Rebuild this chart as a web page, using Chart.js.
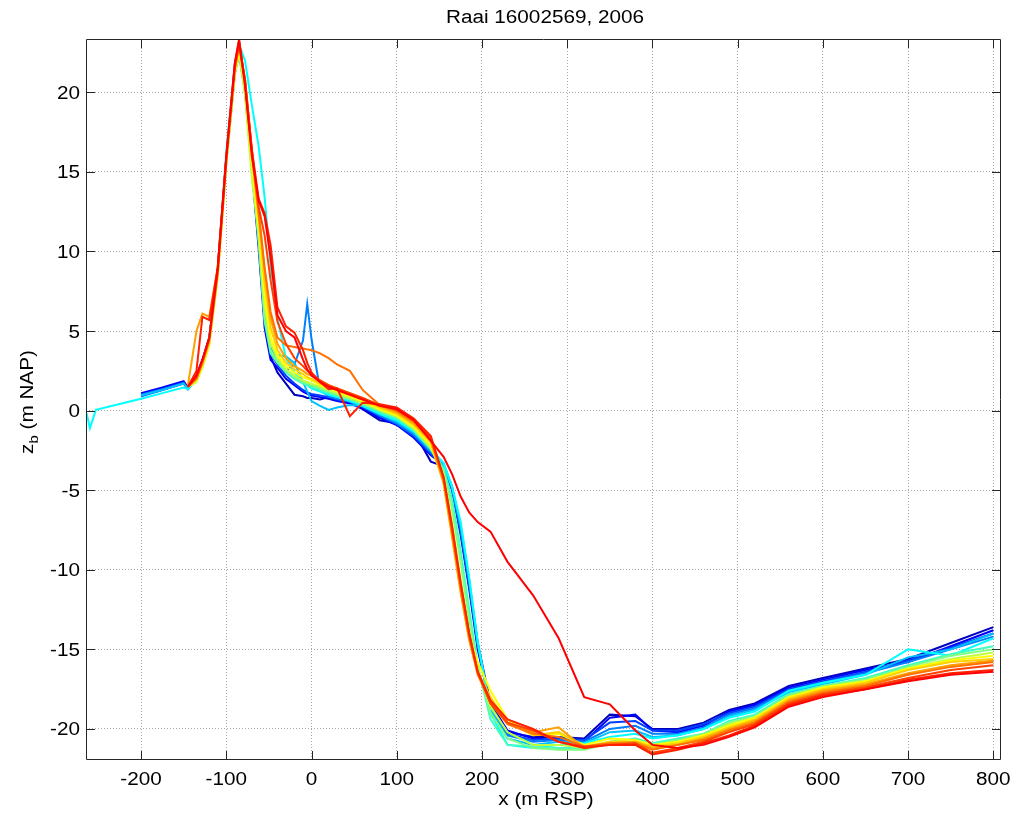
<!DOCTYPE html>
<html lang="en">
<head>
    <meta charset="UTF-8">
    <title>Raai 16002569, 2006</title>
    <script src="https://cdn.jsdelivr.net/npm/chart.js"></script>
    <style>
        body { margin: 0; background: #fff; }
        canvas { display: block; }
    </style>
</head>
<body>
    <canvas id="profileChart" width="1014" height="816"></canvas>
    <script>
        const _ = null;

        // cross-shore positions (m RSP) shared by all profiles
        const xPos = [-264, -260, -253, -230, -200, -175, -150, -145, -135, -128, -120, -110, -100, -90, -85, -78, -70, -62, -55, -48,
                      -40, -30, -20, -10, -5, 0, 10, 20, 30, 45, 60, 80, 100, 120, 140, 155, 165, 175, 185, 195,
                      210, 230, 260, 290, 320, 350, 380, 400, 430, 460, 490, 520, 560, 600, 650, 700, 750, 800];

        const xTicks = [-200, -100, 0, 100, 200, 300, 400, 500, 600, 700, 800];
        const yTicks = [-20, -15, -10, -5, 0, 5, 10, 15, 20];

        // one profile per survey, oldest (blue) to newest (red)
        const colors = ['#0000c0', '#0000ff', '#0040ff', '#0080ff', '#00c0ff', '#00ffff', '#40ffbf', '#80ff80',
                        '#bfff40', '#ffff00', '#ffd000', '#ffa000', '#ff7000', '#ff4000', '#ff2000', '#ff0000'];

        const z00 = [_, _, _, _, 1.0, 1.35, 1.75, 1.4, 2.2, 3.2, 4.6, 8.8, 15.8, 21.5, 22.6, 20.4, 15.6, 10.8, 6.0, 3.4,
                     2.4, 1.7, 1.0, 0.9, 0.8, 0.8, 0.7, 0.85, 0.7, 0.5, 0.1, -0.6, -0.8, -1.3, -3.2, -3.5, -5.0, -7.8, -11.2, -15.0,
                     -18.6, -20.2, -20.5, -20.5, -20.6, -19.1, -19.2, -20.0, -20.0, -19.6, -18.8, -18.4, -17.3, -16.8, -16.2, -15.6, -14.6, -13.6];
        const z01 = [_, _, _, _, 1.1, 1.45, 1.85, 1.45, 2.1, 3.1, 4.5, 8.7, 15.7, 21.3, 22.5, 20.2, 15.2, 10.2, 5.2, 3.2,
                     2.7, 2.0, 1.6, 1.2, 1.05, 0.95, 0.85, 0.75, 0.6, 0.45, 0.15, -0.45, -0.9, -1.7, -2.8, -3.4, -4.8, -7.5, -11.0, -14.6,
                     -18.4, -20.1, -20.6, -20.7, -20.8, -19.3, -19.1, -20.1, -20.2, -19.8, -18.9, -18.5, -17.4, -16.9, -16.3, -15.8, -14.8, -13.8];
        const z02 = [_, _, _, _, 0.9, 1.3, 1.7, 1.35, 2.0, 3.0, 4.4, 8.6, 15.6, 21.2, 22.4, 20.0, 15.4, 10.6, 5.6, 3.6,
                     2.9, 2.2, 1.7, 1.3, 1.15, 1.05, 0.95, 0.85, 0.7, 0.55, 0.25, -0.35, -0.85, -1.6, -2.7, -3.5, -5.0, -7.6, -11.0, -14.8,
                     -18.5, -20.3, -20.7, -20.6, -20.7, -19.6, -19.5, -20.1, -20.1, -19.7, -19.0, -18.6, -17.5, -17.0, -16.4, -15.7, -14.9, -14.0];
        const z03 = [_, _, _, _, 1.0, 1.35, 1.75, 1.4, 2.0, 3.0, 4.4, 8.6, 15.6, 21.2, 22.5, 20.3, 15.8, 11.0, 6.5, 4.0,
                     3.1, 2.5, 2.9, 4.4, 6.7, 4.5, 1.3, 0.9, 0.75, 0.55, 0.25, -0.3, -0.8, -1.5, -2.6, -3.4, -4.9, -7.4, -10.8, -14.6,
                     -18.6, -20.4, -20.8, -20.7, -20.8, -20.0, -19.8, -20.3, -20.3, -19.9, -19.1, -18.7, -17.6, -17.1, -16.5, -15.8, -15.0, -14.2];
        const z04 = [_, _, _, _, 0.95, 1.3, 1.7, 1.35, 2.0, 3.0, 4.5, 8.7, 15.8, 21.4, 22.6, 20.6, 16.0, 11.2, 6.6, 3.8,
                     3.5, 3.4, 3.0, 1.8, 1.2, 0.6, 0.3, 0.05, 0.2, 0.35, 0.3, -0.2, -0.7, -1.4, -2.5, -3.3, -4.8, -7.2, -10.6, -14.6,
                     -18.8, -20.6, -21.0, -20.8, -20.9, -20.2, -20.1, -20.5, -20.4, -20.0, -19.2, -18.8, -17.7, -17.2, -16.6, -15.5, -15.0, -14.0];
        const z05 = [-0.15, -1.1, 0.05, 0.35, 0.75, 1.1, 1.45, 1.35, 2.0, 3.0, 4.6, 9.0, 16.3, 21.8, 23.0, 22.0, 19.2, 16.6, 13.4, 9.1,
                     5.8, 3.3, 2.4, 1.8, 1.6, 1.4, 1.2, 1.0, 0.85, 0.6, 0.3, -0.2, -0.6, -1.3, -2.4, -3.3, -4.8, -7.0, -10.5, -14.5,
                     -19.0, -21.0, -21.2, -21.0, -20.9, -20.5, -20.3, -20.6, -20.4, -20.0, -19.3, -18.9, -17.6, -17.1, -16.6, -15.0, -15.4, -14.3];
        const z06 = [_, _, _, _, _, _, _, 1.5, 1.9, 2.8, 4.3, 8.6, 15.7, 21.3, 22.6, 20.3, 15.4, 10.6, 5.6, 3.6,
                     3.0, 2.4, 2.0, 1.7, 1.6, 1.5, 1.3, 1.1, 0.95, 0.7, 0.4, -0.1, -0.5, -1.2, -2.4, -3.6, -5.6, -8.8, -12.5, -16.0,
                     -19.4, -21.0, -21.1, -21.2, -21.2, -20.8, -20.6, -20.9, -20.6, -20.3, -19.5, -19.1, -17.8, -17.3, -16.8, -16.0, -15.3, -14.8];
        const z07 = [_, _, _, _, _, _, _, 1.5, 1.9, 2.8, 4.2, 8.5, 15.6, 21.2, 22.5, 20.0, 15.0, 10.8, 5.8, 3.8,
                     3.1, 2.5, 2.1, 1.8, 1.7, 1.6, 1.4, 1.2, 1.0, 0.75, 0.45, 0.0, -0.4, -1.2, -2.4, -3.8, -6.2, -9.5, -13.2, -16.2,
                     -19.0, -20.6, -21.2, -21.3, -21.3, -20.9, -20.7, -21.0, -20.7, -20.3, -19.6, -19.2, -17.9, -17.3, -16.9, -16.1, -15.4, -15.0];
        const z08 = [_, _, _, _, _, _, _, 1.5, 1.8, 2.7, 4.1, 8.4, 15.5, 21.1, 22.4, 19.8, 14.6, 11.2, 6.6, 4.2,
                     3.3, 2.6, 2.2, 1.9, 1.8, 1.7, 1.5, 1.3, 1.1, 0.8, 0.5, 0.05, -0.35, -1.1, -2.3, -4.0, -7.0, -10.6, -13.8, -16.2,
                     -18.6, -20.2, -21.0, -21.0, -21.2, -20.8, -20.7, -21.1, -20.8, -20.4, -19.7, -19.3, -18.0, -17.4, -17.0, -16.2, -15.6, -15.2];
        const z09 = [_, _, _, _, _, _, _, 1.5, 1.9, 2.8, 4.2, 8.5, 15.6, 21.3, 22.7, 20.4, 15.6, 11.6, 7.2, 4.6,
                     3.5, 2.8, 2.4, 2.1, 2.0, 1.9, 1.6, 1.4, 1.2, 0.9, 0.6, 0.1, -0.3, -1.0, -2.2, -4.4, -7.8, -11.2, -14.2, -15.8,
                     -17.6, -19.4, -20.4, -20.3, -21.0, -20.6, -20.7, -21.0, -20.8, -20.4, -19.8, -19.3, -18.0, -17.4, -17.0, -16.2, -15.7, -15.4];
        const z10 = [_, _, _, _, _, _, _, 1.5, 2.0, 2.9, 4.3, 8.6, 15.7, 21.4, 22.8, 20.6, 16.0, 12.0, 8.0, 5.2,
                     3.8, 3.0, 2.6, 2.3, 2.1, 2.0, 1.7, 1.5, 1.3, 1.0, 0.7, 0.2, -0.2, -0.9, -2.0, -4.6, -8.0, -11.4, -14.4, -16.4,
                     -18.0, -19.6, -20.4, -20.2, -21.1, -20.8, -20.8, -21.1, -20.9, -20.5, -19.9, -19.4, -18.1, -17.5, -17.1, -16.3, -15.8, -15.6];
        const z11 = [_, _, _, _, _, _, _, 1.6, 5.0, 6.1, 5.9, 9.0, 15.8, 21.5, 23.0, 20.8, 16.2, 12.4, 8.8, 5.8,
                     4.2, 3.3, 2.8, 2.5, 2.3, 2.2, 1.9, 1.6, 1.4, 1.1, 0.8, 0.3, -0.1, -0.8, -1.9, -4.5, -7.9, -11.4, -14.4, -16.6,
                     -18.3, -19.6, -20.2, -19.9, -21.2, -20.9, -20.8, -21.2, -21.0, -20.6, -20.0, -19.5, -18.2, -17.6, -17.2, -16.5, -16.0, -15.7];
        const z12 = [_, _, _, _, _, _, _, 1.5, 2.0, 3.0, 4.4, 8.7, 15.8, 21.5, 22.9, 20.8, 16.3, 12.5, 9.0, 6.2,
                     4.6, 4.1, 4.0, 3.9, 3.85, 3.8, 3.6, 3.3, 2.9, 2.5, 1.3, 0.35, 0.0, -0.7, -1.8, -4.3, -7.6, -11.1, -14.2, -16.5,
                     -18.4, -19.7, -20.3, -20.5, -21.1, -20.9, -20.9, -21.3, -21.0, -20.7, -20.1, -19.6, -18.3, -17.7, -17.3, -16.6, -16.1, -15.8];
        const z13 = [_, _, _, _, _, _, _, 1.5, 2.1, 3.1, 4.5, 8.8, 15.9, 21.6, 23.1, 20.8, 16.4, 12.8, 11.0, 8.2,
                     5.6, 4.2, 3.3, 2.8, 2.5, 2.3, 1.9, 1.6, 1.4, 1.1, 0.8, 0.35, 0.05, -0.6, -1.7, -4.2, -7.4, -10.9, -14.0, -16.4,
                     -18.4, -19.6, -20.1, -20.8, -21.1, -21.0, -20.9, -21.5, -21.2, -20.8, -20.2, -19.7, -18.4, -17.8, -17.4, -16.8, -16.3, -16.0];
        const z14 = [_, _, _, _, _, _, _, 1.5, 2.5, 5.9, 5.7, 9.0, 15.9, 21.8, 23.3, 20.6, 16.4, 13.3, 12.4, 10.4,
                     6.5, 5.3, 4.9, 3.8, 3.0, 2.4, 1.8, 1.35, 1.4, -0.35, 0.5, 0.4, 0.2, -0.5, -1.6, -4.2, -7.3, -10.8, -14.0, -16.4,
                     -18.2, -19.4, -20.0, -20.8, -21.2, -21.0, -21.0, -21.6, -21.3, -20.9, -20.4, -19.8, -18.5, -17.9, -17.5, -16.9, -16.5, -16.3];
        const z15 = [_, _, _, _, _, _, _, 1.5, 2.2, 3.2, 4.6, 9.0, 16.0, 21.8, 23.3, 20.4, 16.0, 13.2, 12.2, 9.6,
                     6.0, 5.0, 4.6, 3.2, 2.6, 2.2, 1.8, 1.5, 1.3, 1.0, 0.7, 0.3, 0.1, -0.6, -1.9, -2.9, -4.0, -5.4, -6.4, -7.0,
                     -7.6, -9.5, -11.6, -14.3, -18.0, -18.45, -20.1, -21.0, -21.2, -21.0, -20.5, -19.9, -18.6, -18.0, -17.5, -17.0, -16.6, -16.4];

        const profiles = [z00, z01, z02, z03, z04, z05, z06, z07, z08, z09, z10, z11, z12, z13, z14, z15];

        const textScale = 1.15;   // reference glyphs are a bit wider than Liberation Sans
        const fontFamily = '"Liberation Sans", Arial, sans-serif';

        function wideText(ctx, str, x, y, align, size) {
            ctx.save();
            ctx.translate(x, y);
            ctx.scale(textScale, 1);
            ctx.font = `${size}px ${fontFamily}`;
            ctx.textAlign = align;
            ctx.textBaseline = 'alphabetic';
            ctx.fillText(str, 0, 0);
            ctx.restore();
        }

        // MATLAB style box, inward ticks and labels
        const axesBox = {
            id: 'axesBox',
            afterDraw(chart) {
                const { ctx, chartArea: a, scales } = chart;
                const tl = 9;
                ctx.save();
                ctx.strokeStyle = '#262626';
                ctx.lineWidth = 1;
                ctx.beginPath();
                ctx.rect(a.left + 0.5, a.top + 0.5, a.right - a.left - 1, a.bottom - a.top - 1);
                xTicks.forEach(v => {
                    const px = Math.round(scales.x.getPixelForValue(v)) + 0.5;
                    ctx.moveTo(px, a.bottom); ctx.lineTo(px, a.bottom - tl);
                    ctx.moveTo(px, a.top); ctx.lineTo(px, a.top + tl);
                });
                yTicks.forEach(v => {
                    const py = Math.round(scales.y.getPixelForValue(v)) + 0.5;
                    ctx.moveTo(a.left, py); ctx.lineTo(a.left + tl, py);
                    ctx.moveTo(a.right, py); ctx.lineTo(a.right - tl, py);
                });
                ctx.stroke();

                ctx.fillStyle = '#000';
                xTicks.forEach(v => wideText(ctx, String(v), scales.x.getPixelForValue(v), a.bottom + 25, 'center', 18));
                yTicks.forEach(v => wideText(ctx, String(v), a.left - 6, scales.y.getPixelForValue(v) + 6.5, 'right', 18));

                wideText(ctx, 'Raai 16002569, 2006', 545, 23, 'center', 18);
                wideText(ctx, 'x (m RSP)', 546, 805, 'center', 18);

                // y label with subscript b
                ctx.translate(33, 402);
                ctx.rotate(-Math.PI / 2);
                ctx.scale(textScale, 1);
                ctx.textBaseline = 'alphabetic';
                ctx.textAlign = 'left';
                ctx.font = `18px ${fontFamily}`;
                const wz = ctx.measureText('z').width;
                const wr = ctx.measureText(' (m NAP)').width;
                ctx.font = `13px ${fontFamily}`;
                const wb = ctx.measureText('b').width;
                let x0 = -(wz + wb + wr) / 2;
                ctx.font = `18px ${fontFamily}`;
                ctx.fillText('z', x0, 0);
                ctx.font = `13px ${fontFamily}`;
                ctx.fillText('b', x0 + wz, 5);
                ctx.font = `18px ${fontFamily}`;
                ctx.fillText(' (m NAP)', x0 + wz + wb, 0);
                ctx.restore();
            }
        };

        // newest profile first so it is drawn on top
        const datasets = profiles.map((zs, i) => ({
            data: xPos.map((x, j) => ({ x: x, y: zs[j] })),
            borderColor: colors[i],
            borderWidth: 2,
            pointRadius: 0,
            tension: 0,
            fill: false
        })).reverse();

        const gridOpts = { color: '#a8a8a8', lineWidth: 1, drawTicks: false };

        new Chart(document.getElementById('profileChart'), {
            type: 'line',
            data: { datasets },
            options: {
                responsive: false,
                animation: false,
                events: [],
                layout: { padding: { top: 39, right: 13, left: 0, bottom: 0 } },
                plugins: { legend: { display: false }, tooltip: { enabled: false } },
                scales: {
                    x: {
                        type: 'linear',
                        min: -264.6,
                        max: 809,
                        ticks: { display: false },
                        grid: gridOpts,
                        border: { display: false, dash: [1, 2] },
                        afterBuildTicks: s => { s.ticks = xTicks.map(v => ({ value: v })); },
                        afterFit: s => { s.height = 56; }
                    },
                    y: {
                        type: 'linear',
                        min: -21.95,
                        max: 23.35,
                        ticks: { display: false },
                        grid: gridOpts,
                        border: { display: false, dash: [1, 2] },
                        afterBuildTicks: s => { s.ticks = yTicks.map(v => ({ value: v })); },
                        afterFit: s => { s.width = 86; }
                    }
                }
            },
            plugins: [axesBox]
        });
    </script>
</body>
</html>
